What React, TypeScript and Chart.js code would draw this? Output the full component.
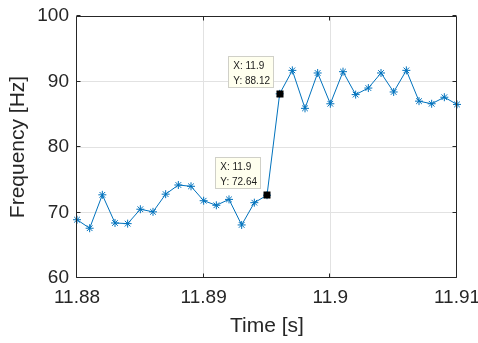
import React, { useEffect, useRef } from "react";
import { Chart, registerables } from "chart.js";

Chart.register(...registerables);

const times = [
  11.880, 11.881, 11.882, 11.883, 11.884, 11.885, 11.886, 11.887, 11.888, 11.889,
  11.890, 11.891, 11.892, 11.893, 11.894, 11.895, 11.896, 11.897, 11.898, 11.899,
  11.900, 11.901, 11.902, 11.903, 11.904, 11.905, 11.906, 11.907, 11.908, 11.909,
  11.910,
];
const frequency = [
  68.9, 67.6, 72.7, 68.4, 68.3, 70.5, 70.1, 72.8, 74.2, 74.0,
  71.8, 71.1, 72.0, 68.1, 71.5, 72.64, 88.12, 91.7, 85.9, 91.3,
  86.6, 91.5, 88.0, 89.0, 91.3, 88.4, 91.7, 87.0, 86.6, 87.6,
  86.5,
];
const xTicks = [11.88, 11.89, 11.9, 11.91];
const yTicks = [60, 70, 80, 90, 100];
const tipIndices = [15, 16];
const tipLabels = [
  ["X: 11.9", "Y: 72.64"],
  ["X: 11.9", "Y: 88.12"],
];

const FONT = '"Liberation Sans", Arial, Helvetica, sans-serif';
const AXIS_COLOR = "#262626";
const LINE_COLOR = "#0072BD";

const framePlugin = {
  id: "frame",
  afterDraw(chart: any) {
    const { ctx, chartArea, scales } = chart;
    const { left, right, top, bottom } = chartArea;
    ctx.save();
    ctx.strokeStyle = AXIS_COLOR;
    ctx.lineWidth = 1;
    ctx.beginPath();
    const l = Math.round(left) - 0.5;
    const r = Math.round(right) - 0.5;
    const t = Math.round(top) + 0.5;
    const b = Math.round(bottom) - 0.5;
    ctx.rect(l, t, r - l, b - t);
    const tl = 4;
    xTicks.forEach((v) => {
      const x = Math.round(scales.x.getPixelForValue(v)) - 0.5;
      ctx.moveTo(x, b);
      ctx.lineTo(x, b - tl);
      ctx.moveTo(x, t);
      ctx.lineTo(x, t + tl);
    });
    yTicks.forEach((v) => {
      const y = Math.round(scales.y.getPixelForValue(v)) - 0.5;
      ctx.moveTo(l, y);
      ctx.lineTo(l + tl, y);
      ctx.moveTo(r, y);
      ctx.lineTo(r - tl, y);
    });
    ctx.stroke();
    ctx.restore();
  },
};

const dataTipPlugin = {
  id: "datatips",
  afterDraw(chart: any) {
    const { ctx } = chart;
    const meta = chart.getDatasetMeta(0);
    ctx.save();
    tipIndices.forEach((idx, k) => {
      const el = meta.data[idx];
      if (!el) return;
      const px = el.x;
      const py = el.y;
      ctx.font = "10px " + FONT;
      const lines = tipLabels[k];
      const w = Math.max(...lines.map((s) => ctx.measureText(s).width)) + 9;
      const h = 32;
      const right = Math.round(px - 6);
      const bottom = Math.round(py - 6);
      const left = right - w;
      const top = bottom - h;
      ctx.fillStyle = "#ffffee";
      ctx.fillRect(left, top, w, h);
      ctx.strokeStyle = "#d0d0c8";
      ctx.lineWidth = 1;
      ctx.strokeRect(Math.round(left) + 0.5, top + 0.5, Math.round(w) - 1, h - 1);
      ctx.fillStyle = "#1a1a1a";
      ctx.textAlign = "left";
      ctx.textBaseline = "middle";
      ctx.fillText(lines[0], left + 5, top + 10.5);
      ctx.fillText(lines[1], left + 5, top + 25);
      ctx.fillStyle = "#000000";
      ctx.fillRect(Math.round(px) - 3.5, Math.round(py) - 3.5, 7, 7);
    });
    ctx.restore();
  },
};

export default function App() {
  const canvasRef = useRef<HTMLCanvasElement | null>(null);

  useEffect(() => {
    document.body.style.margin = "0";
    const canvas = canvasRef.current;
    if (!canvas) return;
    const chart = new Chart(canvas, {
      type: "line",
      data: {
        datasets: [
          {
            data: times.map((t, i) => ({ x: t, y: frequency[i] })),
            borderColor: LINE_COLOR,
            backgroundColor: LINE_COLOR,
            borderWidth: 1,
            pointStyle: "star",
            pointRadius: 4,
            pointBorderWidth: 1,
            pointBorderColor: LINE_COLOR,
            pointBackgroundColor: LINE_COLOR,
            tension: 0,
            clip: false as any,
          },
        ],
      },
      options: {
        animation: false,
        responsive: false,
        devicePixelRatio: 1,
        layout: { padding: { left: 0, right: 21, top: 16, bottom: 0 } },
        plugins: {
          legend: { display: false },
          tooltip: { enabled: false },
        },
        scales: {
          x: {
            type: "linear",
            min: 11.88,
            max: 11.91,
            afterBuildTicks: (scale: any) => {
              scale.ticks = xTicks.map((v) => ({ value: v }));
            },
            afterFit: (scale: any) => {
              scale.height = 65;
              scale.paddingLeft = 0;
              scale.paddingRight = 0;
            },
            border: { display: false },
            grid: {
              drawTicks: false,
              color: (c: any) =>
                c.index === 0 || c.index === xTicks.length - 1 ? "rgba(0,0,0,0)" : "#e2e2e2",
            },
            ticks: {
              padding: 8,
              color: AXIS_COLOR,
              font: { family: FONT, size: 19 },
              maxRotation: 0,
              callback: (v: any) => String(Number(Number(v).toFixed(2))),
            },
            title: {
              display: true,
              text: "Time [s]",
              color: AXIS_COLOR,
              font: { family: FONT, size: 21 },
              padding: { top: 0, bottom: 4 },
            },
          },
          y: {
            type: "linear",
            min: 60,
            max: 100,
            afterBuildTicks: (scale: any) => {
              scale.ticks = yTicks.map((v) => ({ value: v }));
            },
            afterFit: (scale: any) => {
              scale.width = 77;
              scale.paddingTop = 0;
              scale.paddingBottom = 0;
            },
            border: { display: false },
            grid: {
              drawTicks: false,
              color: (c: any) =>
                c.index === 0 || c.index === yTicks.length - 1 ? "rgba(0,0,0,0)" : "#e2e2e2",
            },
            ticks: {
              padding: 8,
              color: AXIS_COLOR,
              font: { family: FONT, size: 19 },
            },
            title: {
              display: true,
              text: "Frequency [Hz]",
              color: AXIS_COLOR,
              font: { family: FONT, size: 21 },
              padding: { top: 6, bottom: 0 },
            },
          },
        },
      },
      plugins: [framePlugin, dataTipPlugin],
    });
    return () => chart.destroy();
  }, []);

  return (
    <div style={{ position: "absolute", left: 0, top: 0, width: 478, height: 343, background: "#fff" }}>
      <canvas ref={canvasRef} width={478} height={343} />
    </div>
  );
}
